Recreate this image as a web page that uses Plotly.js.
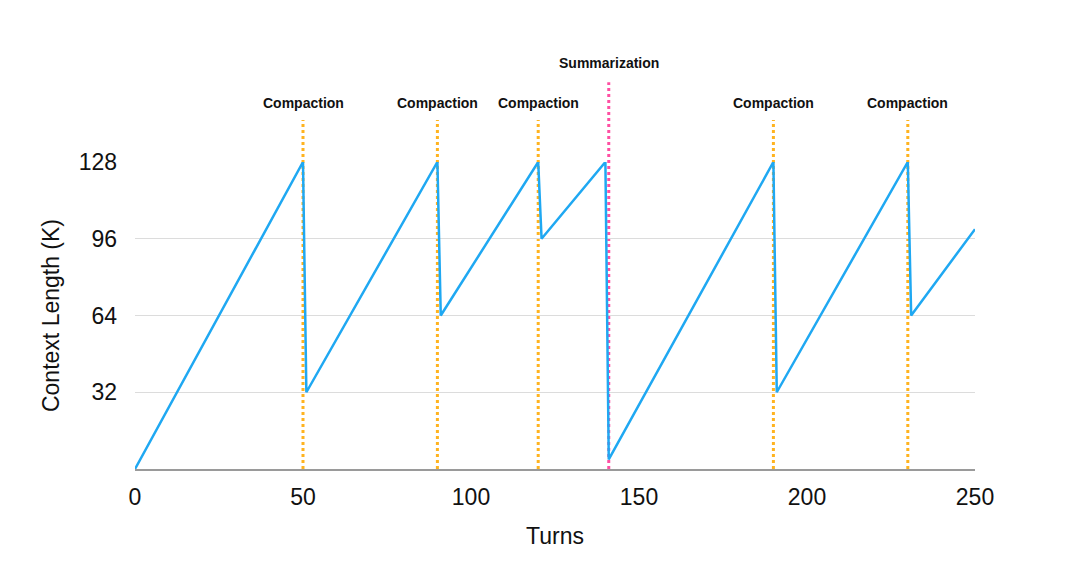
<!DOCTYPE html>
<html>
<head>
<meta charset="utf-8">
<script src="https://cdn.plot.ly/plotly-3.0.1.min.js"></script>
<style>html,body{margin:0;padding:0;background:#fff;}#chart{width:1080px;height:571px;}</style>
</head>
<body>
<div id="chart"></div>
<script>
const turns =   [0, 50, 51, 90, 91, 120, 121, 140, 141, 190, 191, 230, 231, 250];
const context = [0, 128, 32, 128, 64, 128, 96, 128, 4, 128, 32, 128, 64, 100];
const compactionTurns = [50, 90, 120, 190, 230];
const summarizationTurns = [141];
const xTicks = [0, 50, 100, 150, 200, 250];
const yTicks = [32, 64, 96, 128];

const font = "Liberation Sans, Arial, Helvetica, sans-serif";
const shapes = [];
const annotations = [];
compactionTurns.forEach(t => {
  shapes.push({type:'line', xref:'x', yref:'paper', x0:t, x1:t, y0:0, y1:1.137,
    line:{color:'#FFB31F', width:3, dash:'dot'}, layer:'below'});
  annotations.push({x:t, xref:'x', y:1.192, yref:'paper', text:'<b>Compaction</b>',
    showarrow:false, font:{family:font, size:14, color:'#111'}, yanchor:'middle'});
});
summarizationTurns.forEach(t => {
  shapes.push({type:'line', xref:'x', yref:'paper', x0:t, x1:t, y0:0, y1:1.26,
    line:{color:'#FF4FA3', width:3, dash:'dot'}, layer:'below'});
  annotations.push({x:t, xref:'x', y:1.322, yref:'paper', text:'<b>Summarization</b>',
    showarrow:false, font:{family:font, size:14, color:'#111'}, yanchor:'middle'});
});

const data = [{
  x: turns, y: context, type:'scatter', mode:'lines',
  line:{color:'#1FA8F2', width:2.5}, hoverinfo:'skip', cliponaxis:false
}];

const layout = {
  width:1080, height:571,
  margin:{l:135, r:105, t:162, b:102},
  paper_bgcolor:'#fff', plot_bgcolor:'#fff',
  showlegend:false,
  font:{family:font, color:'#111'},
  xaxis:{range:[0,250], tickvals:xTicks, ticktext:xTicks.map(String), showgrid:false, zeroline:false,
    showline:true, linecolor:'#9a9a9a', linewidth:1.5, ticks:'', ticklabelstandoff:7,
    tickfont:{family:font, size:23, color:'#111'},
    title:{text:'Turns', font:{family:font, size:23, color:'#111'}, standoff:19}},
  yaxis:{range:[0,128], tickvals:yTicks, ticktext:yTicks.map(String), showgrid:true, gridcolor:'#dcdcdc', gridwidth:1,
    zeroline:false, showline:false, ticks:'', ticklabelstandoff:17,
    tickfont:{family:font, size:23, color:'#111'},
    title:{text:'Context Length (K)', font:{family:font, size:23, color:'#111'}, standoff:12}},
  shapes: shapes,
  annotations: annotations
};
Plotly.newPlot('chart', data, layout, {displayModeBar:false, staticPlot:true});
</script>
</body>
</html>
